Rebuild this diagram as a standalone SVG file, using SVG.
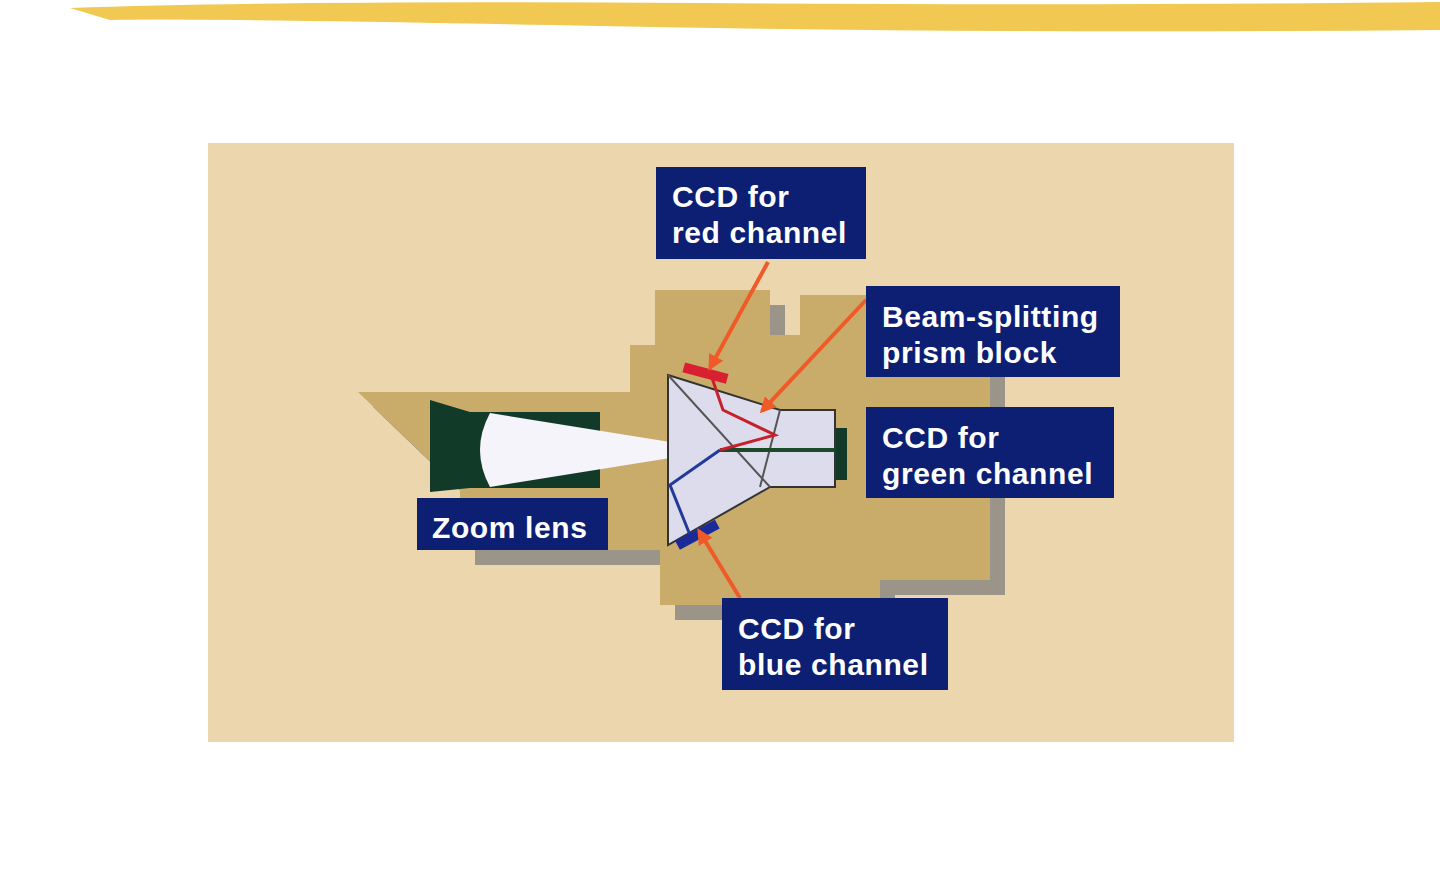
<svg xmlns="http://www.w3.org/2000/svg" width="1440" height="877" viewBox="0 0 1440 877">
<style>
.lbl{fill:#0c1f72}
.t{font-family:"Liberation Sans",Arial,sans-serif;font-weight:bold;font-size:30px;letter-spacing:0.6px;fill:#fff}
.ar{stroke:#f05a28;stroke-width:4;fill:none}
</style>
<defs>
<marker id="ah" viewBox="0 0 10 10" refX="8" refY="5" markerWidth="4" markerHeight="4" orient="auto"><path d="M0,0L10,5L0,10z" fill="#f05a28"/></marker>
</defs>
<rect width="1440" height="877" fill="#fff"/>
<path d="M70,8 Q300,0 700,3 T1440,2 L1440,30 Q1000,34 600,26 T110,20 Z" fill="#f1c851"/>
<rect x="208" y="143" width="1026" height="599" fill="#ecd6ae"/>
<g id="body">
<path fill="#9b9589" d="M373,407 L645,407 L645,360 L670,360 L670,305 L785,305 L785,350 L815,350 L815,310 L1005,310 L1005,595 L895,595 L895,620 L675,620 L675,565 L475,565 L475,505 Z"/>
<path fill="#c9ac6a" d="M358,392 L630,392 L630,345 L655,345 L655,290 L770,290 L770,335 L800,335 L800,295 L990,295 L990,580 L880,580 L880,605 L660,605 L660,550 L460,550 L460,490 Z"/>
</g>
<g id="lens">
<path fill="#123a28" d="M430,400 L470,412 L600,412 L600,488 L470,488 L430,492 Z"/>
<path fill="#f4f4fa" d="M490,413 L720,450 L490,487 Q470,450 490,413 Z"/>
</g>
<g id="prism">
<rect x="835" y="428" width="12" height="52" fill="#123a28"/>
<path fill="#dcdcec" stroke="#333" stroke-width="2" d="M668,375 L780,410 L835,410 L835,487 L770,487 L668,545 Z"/>
<path stroke="#555" stroke-width="2" fill="none" d="M668,375 L770,487 M780,410 L760,487"/>
<path stroke="#1a4a2a" stroke-width="4" d="M720,450 L835,450"/>
<path stroke="#c8202a" stroke-width="3" fill="none" d="M720,450 L775,435 L723,410 L712,378"/>
<path stroke="#233a9a" stroke-width="3" fill="none" d="M720,450 L670,485 L690,535"/>
<rect x="683" y="368" width="45" height="10" fill="#d82030" transform="rotate(15 705 373)"/>
<rect x="675" y="530" width="45" height="10" fill="#1a2a9a" transform="rotate(-28 697 535)"/>
</g>
<g id="connectors">
<path class="ar" marker-end="url(#ah)" d="M768,262 L710,368"/>
<path class="ar" marker-end="url(#ah)" d="M866,300 L762,411"/>
<path class="ar" marker-end="url(#ah)" d="M740,598 L699,531"/>
</g>
<g id="red"><rect class="lbl" x="656" y="167" width="210" height="92"/><text class="t" x="672" y="207">CCD for</text><text class="t" x="672" y="243">red channel</text></g>
<g id="prismlbl"><rect class="lbl" x="866" y="286" width="254" height="91"/><text class="t" x="882" y="327">Beam-splitting</text><text class="t" x="882" y="363">prism block</text></g>
<g id="green"><rect class="lbl" x="866" y="407" width="248" height="91"/><text class="t" x="882" y="448">CCD for</text><text class="t" x="882" y="484">green channel</text></g>
<g id="zoom"><rect class="lbl" x="417" y="498" width="191" height="52"/><text class="t" x="432" y="538">Zoom lens</text></g>
<g id="blue"><rect class="lbl" x="722" y="598" width="226" height="92"/><text class="t" x="738" y="639">CCD for</text><text class="t" x="738" y="675">blue channel</text></g>
</svg>
